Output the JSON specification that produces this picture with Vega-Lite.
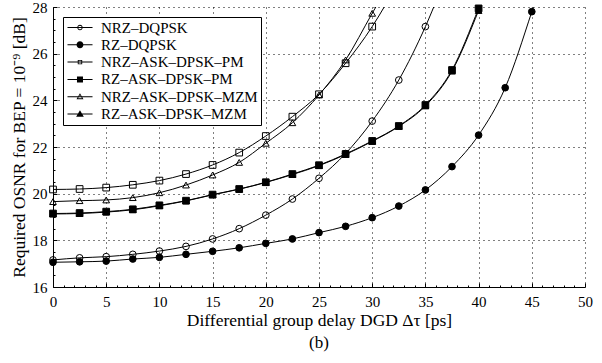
{
  "$schema": "https://vega.github.io/schema/vega-lite/v6.json",
  "width": 532,
  "height": 280,
  "autosize": {"type": "none"},
  "padding": {"left": 53, "top": 7, "right": 17, "bottom": 76},
  "background": "white",
  "title": {"text": "(b)", "orient": "bottom", "anchor": "middle", "font": "Liberation Serif, Times New Roman, Times, serif", "fontSize": 17, "fontWeight": "normal", "color": "black", "offset": 6},
  "config": {"view": {"stroke": null}, "font": "Liberation Serif, Times New Roman, Times, serif"},
  "data": {"values": [
    {"series": "NRZ–DQPSK", "dgd": 0, "osnr": 17.16},
    {"series": "NRZ–DQPSK", "dgd": 2.5, "osnr": 17.25},
    {"series": "NRZ–DQPSK", "dgd": 5, "osnr": 17.3},
    {"series": "NRZ–DQPSK", "dgd": 7.5, "osnr": 17.4},
    {"series": "NRZ–DQPSK", "dgd": 10, "osnr": 17.54},
    {"series": "NRZ–DQPSK", "dgd": 12.5, "osnr": 17.74},
    {"series": "NRZ–DQPSK", "dgd": 15, "osnr": 18.06},
    {"series": "NRZ–DQPSK", "dgd": 17.5, "osnr": 18.5},
    {"series": "NRZ–DQPSK", "dgd": 20, "osnr": 19.08},
    {"series": "NRZ–DQPSK", "dgd": 22.5, "osnr": 19.77},
    {"series": "NRZ–DQPSK", "dgd": 25, "osnr": 20.66},
    {"series": "NRZ–DQPSK", "dgd": 27.5, "osnr": 21.72},
    {"series": "NRZ–DQPSK", "dgd": 30, "osnr": 23.11},
    {"series": "NRZ–DQPSK", "dgd": 32.5, "osnr": 24.87},
    {"series": "NRZ–DQPSK", "dgd": 35, "osnr": 27.16},
    {"series": "NRZ–DQPSK", "dgd": 37.5, "osnr": 30.0},
    {"series": "RZ–DQPSK", "dgd": 0, "osnr": 17.06},
    {"series": "RZ–DQPSK", "dgd": 2.5, "osnr": 17.08},
    {"series": "RZ–DQPSK", "dgd": 5, "osnr": 17.11},
    {"series": "RZ–DQPSK", "dgd": 7.5, "osnr": 17.2},
    {"series": "RZ–DQPSK", "dgd": 10, "osnr": 17.27},
    {"series": "RZ–DQPSK", "dgd": 12.5, "osnr": 17.4},
    {"series": "RZ–DQPSK", "dgd": 15, "osnr": 17.53},
    {"series": "RZ–DQPSK", "dgd": 17.5, "osnr": 17.68},
    {"series": "RZ–DQPSK", "dgd": 20, "osnr": 17.87},
    {"series": "RZ–DQPSK", "dgd": 22.5, "osnr": 18.06},
    {"series": "RZ–DQPSK", "dgd": 25, "osnr": 18.33},
    {"series": "RZ–DQPSK", "dgd": 27.5, "osnr": 18.6},
    {"series": "RZ–DQPSK", "dgd": 30, "osnr": 18.97},
    {"series": "RZ–DQPSK", "dgd": 32.5, "osnr": 19.47},
    {"series": "RZ–DQPSK", "dgd": 35, "osnr": 20.16},
    {"series": "RZ–DQPSK", "dgd": 37.5, "osnr": 21.16},
    {"series": "RZ–DQPSK", "dgd": 40, "osnr": 22.51},
    {"series": "RZ–DQPSK", "dgd": 42.5, "osnr": 24.54},
    {"series": "RZ–DQPSK", "dgd": 45, "osnr": 27.8},
    {"series": "RZ–DQPSK", "dgd": 47.5, "osnr": 31.5},
    {"series": "NRZ–ASK–DPSK–PM", "dgd": 0, "osnr": 20.18},
    {"series": "NRZ–ASK–DPSK–PM", "dgd": 2.5, "osnr": 20.2},
    {"series": "NRZ–ASK–DPSK–PM", "dgd": 5, "osnr": 20.26},
    {"series": "NRZ–ASK–DPSK–PM", "dgd": 7.5, "osnr": 20.38},
    {"series": "NRZ–ASK–DPSK–PM", "dgd": 10, "osnr": 20.56},
    {"series": "NRZ–ASK–DPSK–PM", "dgd": 12.5, "osnr": 20.84},
    {"series": "NRZ–ASK–DPSK–PM", "dgd": 15, "osnr": 21.23},
    {"series": "NRZ–ASK–DPSK–PM", "dgd": 17.5, "osnr": 21.76},
    {"series": "NRZ–ASK–DPSK–PM", "dgd": 20, "osnr": 22.47},
    {"series": "NRZ–ASK–DPSK–PM", "dgd": 22.5, "osnr": 23.3},
    {"series": "NRZ–ASK–DPSK–PM", "dgd": 25, "osnr": 24.26},
    {"series": "NRZ–ASK–DPSK–PM", "dgd": 27.5, "osnr": 25.59},
    {"series": "NRZ–ASK–DPSK–PM", "dgd": 30, "osnr": 27.16},
    {"series": "NRZ–ASK–DPSK–PM", "dgd": 32.5, "osnr": 29.1},
    {"series": "RZ–ASK–DPSK–PM", "dgd": 0, "osnr": 19.15},
    {"series": "RZ–ASK–DPSK–PM", "dgd": 2.5, "osnr": 19.17},
    {"series": "RZ–ASK–DPSK–PM", "dgd": 5, "osnr": 19.23},
    {"series": "RZ–ASK–DPSK–PM", "dgd": 7.5, "osnr": 19.33},
    {"series": "RZ–ASK–DPSK–PM", "dgd": 10, "osnr": 19.5},
    {"series": "RZ–ASK–DPSK–PM", "dgd": 12.5, "osnr": 19.7},
    {"series": "RZ–ASK–DPSK–PM", "dgd": 15, "osnr": 19.96},
    {"series": "RZ–ASK–DPSK–PM", "dgd": 17.5, "osnr": 20.2},
    {"series": "RZ–ASK–DPSK–PM", "dgd": 20, "osnr": 20.49},
    {"series": "RZ–ASK–DPSK–PM", "dgd": 22.5, "osnr": 20.84},
    {"series": "RZ–ASK–DPSK–PM", "dgd": 25, "osnr": 21.22},
    {"series": "RZ–ASK–DPSK–PM", "dgd": 27.5, "osnr": 21.7},
    {"series": "RZ–ASK–DPSK–PM", "dgd": 30, "osnr": 22.26},
    {"series": "RZ–ASK–DPSK–PM", "dgd": 32.5, "osnr": 22.9},
    {"series": "RZ–ASK–DPSK–PM", "dgd": 35, "osnr": 23.8},
    {"series": "RZ–ASK–DPSK–PM", "dgd": 37.5, "osnr": 25.3},
    {"series": "RZ–ASK–DPSK–PM", "dgd": 40, "osnr": 27.94},
    {"series": "RZ–ASK–DPSK–PM", "dgd": 42.5, "osnr": 31.0},
    {"series": "NRZ–ASK–DPSK–MZM", "dgd": 0, "osnr": 19.66},
    {"series": "NRZ–ASK–DPSK–MZM", "dgd": 2.5, "osnr": 19.7},
    {"series": "NRZ–ASK–DPSK–MZM", "dgd": 5, "osnr": 19.73},
    {"series": "NRZ–ASK–DPSK–MZM", "dgd": 7.5, "osnr": 19.83},
    {"series": "NRZ–ASK–DPSK–MZM", "dgd": 10, "osnr": 20.04},
    {"series": "NRZ–ASK–DPSK–MZM", "dgd": 12.5, "osnr": 20.37},
    {"series": "NRZ–ASK–DPSK–MZM", "dgd": 15, "osnr": 20.8},
    {"series": "NRZ–ASK–DPSK–MZM", "dgd": 17.5, "osnr": 21.34},
    {"series": "NRZ–ASK–DPSK–MZM", "dgd": 20, "osnr": 22.16},
    {"series": "NRZ–ASK–DPSK–MZM", "dgd": 22.5, "osnr": 23.04},
    {"series": "NRZ–ASK–DPSK–MZM", "dgd": 25, "osnr": 24.23},
    {"series": "NRZ–ASK–DPSK–MZM", "dgd": 27.5, "osnr": 25.73},
    {"series": "NRZ–ASK–DPSK–MZM", "dgd": 30, "osnr": 27.73},
    {"series": "NRZ–ASK–DPSK–MZM", "dgd": 32.5, "osnr": 29.7},
    {"series": "RZ–ASK–DPSK–MZM", "dgd": 0, "osnr": 19.13},
    {"series": "RZ–ASK–DPSK–MZM", "dgd": 2.5, "osnr": 19.15},
    {"series": "RZ–ASK–DPSK–MZM", "dgd": 5, "osnr": 19.21},
    {"series": "RZ–ASK–DPSK–MZM", "dgd": 7.5, "osnr": 19.31},
    {"series": "RZ–ASK–DPSK–MZM", "dgd": 10, "osnr": 19.48},
    {"series": "RZ–ASK–DPSK–MZM", "dgd": 12.5, "osnr": 19.69},
    {"series": "RZ–ASK–DPSK–MZM", "dgd": 15, "osnr": 19.95},
    {"series": "RZ–ASK–DPSK–MZM", "dgd": 17.5, "osnr": 20.19},
    {"series": "RZ–ASK–DPSK–MZM", "dgd": 20, "osnr": 20.48},
    {"series": "RZ–ASK–DPSK–MZM", "dgd": 22.5, "osnr": 20.82},
    {"series": "RZ–ASK–DPSK–MZM", "dgd": 25, "osnr": 21.2},
    {"series": "RZ–ASK–DPSK–MZM", "dgd": 27.5, "osnr": 21.68},
    {"series": "RZ–ASK–DPSK–MZM", "dgd": 30, "osnr": 22.24},
    {"series": "RZ–ASK–DPSK–MZM", "dgd": 32.5, "osnr": 22.88},
    {"series": "RZ–ASK–DPSK–MZM", "dgd": 35, "osnr": 23.76},
    {"series": "RZ–ASK–DPSK–MZM", "dgd": 37.5, "osnr": 25.25},
    {"series": "RZ–ASK–DPSK–MZM", "dgd": 40, "osnr": 27.85},
    {"series": "RZ–ASK–DPSK–MZM", "dgd": 42.5, "osnr": 30.9}
  ]},
  "resolve": {"axis": {"x": "independent", "y": "independent"}, "scale": {"shape": "independent"}},
  "layer": [
    {
      "mark": {"type": "line", "clip": true, "interpolate": "monotone", "color": "black", "strokeWidth": 1},
      "encoding": {
        "x": {"field": "dgd", "type": "quantitative", "scale": {"domain": [0, 50], "nice": false},
          "axis": {"orient": "bottom", "values": [0, 5, 10, 15, 20, 25, 30, 35, 40, 45, 50], "grid": true, "gridDash": [1, 4], "gridColor": "black", "gridOpacity": 1, "gridWidth": 1,
            "domainColor": "black", "domainWidth": 1, "tickColor": "black", "tickSize": -4, "tickWidth": 1, "labelPadding": 11,
            "labelFont": "Liberation Serif, Times New Roman, Times, serif", "labelFontSize": 15, "labelColor": "black", "labelFlush": false,
            "title": "Differential group delay DGD Δτ [ps]", "titleFont": "Liberation Serif, Times New Roman, Times, serif", "titleFontSize": 17.5, "titleFontWeight": "normal", "titleColor": "black", "titlePadding": 2}},
        "y": {"field": "osnr", "type": "quantitative", "scale": {"domain": [16, 28], "nice": false},
          "axis": {"orient": "left", "values": [16, 18, 20, 22, 24, 26, 28], "grid": true, "gridDash": [1, 4], "gridColor": "black", "gridOpacity": 1, "gridWidth": 1,
            "domainColor": "black", "domainWidth": 1, "tickColor": "black", "tickSize": -4, "tickWidth": 1, "labelPadding": 10,
            "labelFont": "Liberation Serif, Times New Roman, Times, serif", "labelFontSize": 15, "labelColor": "black", "labelFlush": false,
            "title": "Required OSNR for BEP = 10⁻⁹ [dB]", "titleFont": "Liberation Serif, Times New Roman, Times, serif", "titleFontSize": 17.5, "titleFontWeight": "normal", "titleColor": "black", "titlePadding": 4}},
        "detail": {"field": "series", "type": "nominal"}
      }
    },
    {
      "transform": [{"filter": "datum.osnr <= 28.1"}],
      "mark": {"type": "point", "filled": true, "stroke": "black", "strokeWidth": 1, "size": 45, "opacity": 1},
      "encoding": {
        "x": {"field": "dgd", "type": "quantitative",
          "axis": {"orient": "bottom", "values": [1,2,3,4,6,7,8,9,11,12,13,14,16,17,18,19,21,22,23,24,26,27,28,29,31,32,33,34,36,37,38,39,41,42,43,44,46,47,48,49], "grid": false, "domain": false, "labels": false, "title": null, "tickColor": "black", "tickSize": -2, "tickWidth": 1}},
        "y": {"field": "osnr", "type": "quantitative",
          "axis": {"orient": "left", "values": [16.5,17,17.5,18.5,19,19.5,20.5,21,21.5,22.5,23,23.5,24.5,25,25.5,26.5,27,27.5], "grid": false, "domain": false, "labels": false, "title": null, "tickColor": "black", "tickSize": -2, "tickWidth": 1}},
        "shape": {"field": "series", "type": "nominal",
          "scale": {"domain": ["NRZ–DQPSK", "RZ–DQPSK", "NRZ–ASK–DPSK–PM", "RZ–ASK–DPSK–PM", "NRZ–ASK–DPSK–MZM", "RZ–ASK–DPSK–MZM"],
            "range": ["circle", "circle", "square", "square", "triangle-up", "triangle-up"]},
          "legend": null},
        "fill": {"field": "series", "type": "nominal",
          "scale": {"domain": ["NRZ–DQPSK", "RZ–DQPSK", "NRZ–ASK–DPSK–PM", "RZ–ASK–DPSK–PM", "NRZ–ASK–DPSK–MZM", "RZ–ASK–DPSK–MZM"],
            "range": ["transparent", "black", "transparent", "black", "transparent", "black"]},
          "legend": null}
      }
    },
    {
      "transform": [{"filter": "datum.dgd < -100"}],
      "mark": {"type": "point", "filled": true, "fill": "black", "strokeWidth": 0, "opacity": 1},
      "encoding": {
        "x": {"field": "dgd", "type": "quantitative", "axis": null},
        "y": {"field": "osnr", "type": "quantitative", "axis": null},
        "shape": {"field": "series", "type": "nominal",
          "scale": {"domain": ["NRZ–DQPSK", "RZ–DQPSK", "NRZ–ASK–DPSK–PM", "RZ–ASK–DPSK–PM", "NRZ–ASK–DPSK–MZM", "RZ–ASK–DPSK–MZM"],
            "range": [
              "M-1,-0.083L3.17,-0.083L3.17,0.083L-1,0.083ZM1.53,0A0.45,0.45,0,1,1,0.63,0A0.45,0.45,0,1,1,1.53,0ZM1.38,0A0.3,0.3,0,1,0,0.78,0A0.3,0.3,0,1,0,1.38,0Z",
              "M-1,-0.083L3.17,-0.083L3.17,0.083L-1,0.083ZM1.66,0A0.58,0.58,0,1,1,0.5,0A0.58,0.58,0,1,1,1.66,0Z",
              "M-1,-0.083L3.17,-0.083L3.17,0.083L-1,0.083ZM0.71,-0.37L1.45,-0.37L1.45,0.37L0.71,0.37ZM0.86,-0.22L0.86,0.22L1.3,0.22L1.3,-0.22Z",
              "M-1,-0.083L3.17,-0.083L3.17,0.083L-1,0.083ZM0.58,-0.5L1.58,-0.5L1.58,0.5L0.58,0.5Z",
              "M-1,-0.083L3.17,-0.083L3.17,0.083L-1,0.083ZM1.08,-0.58L1.66,0.42L0.5,0.42ZM1.08,-0.3L0.76,0.26L1.4,0.26Z",
              "M-1,-0.083L3.17,-0.083L3.17,0.083L-1,0.083ZM1.08,-0.64L1.72,0.45L0.44,0.45Z"
            ]},
          "legend": {"title": null, "orient": "top-left", "offset": 10, "padding": 3, "strokeColor": "black", "fillColor": "white", "cornerRadius": 0,
            "labelFont": "Liberation Serif, Times New Roman, Times, serif", "labelFontSize": 15, "labelColor": "black", "labelLimit": 400, "symbolSize": 144, "labelOffset": 20, "rowPadding": 1.3,
            "symbolFillColor": "black", "symbolStrokeWidth": 0, "symbolOpacity": 1}}
      }
    }
  ]
}
